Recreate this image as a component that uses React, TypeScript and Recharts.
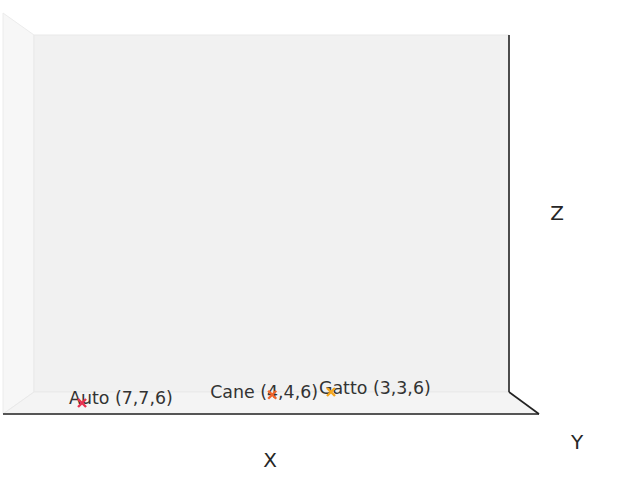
import { ScatterChart, Scatter, XAxis, YAxis } from "recharts";

// points (3D values)
const names = ["Auto", "Cane", "Gatto"];
const xs = [7, 4, 3];
const ys = [7, 4, 3];
const zs = [6, 6, 6];

const COLORS = ["#e8304f", "#f0652b", "#f5a61c"];
// label offsets (px) from the projected point, like the reference
const LABEL_DX = [-13, -62, -12];
const LABEL_DY = [-5, -3, -4];

const W = 619;
const H = 487;
const FONT = "'DejaVu Sans', sans-serif";

// simple perspective projection of the 3D view onto the screen plane
const project = (x: number, y: number, z: number) => ({
  px: 271 + (3240 * (4.02 - x)) / (58.1 - y),
  py: 383.75 + 2.75 * y + 0 * z,
});

const points = names.map((name, i) => ({
  name,
  idx: i,
  label: `${name} (${xs[i]},${ys[i]},${zs[i]})`,
  ...project(xs[i], ys[i], zs[i]),
}));

const Marker = (props: any) => {
  const { cx, cy, payload } = props;
  const i = payload.idx;
  const r = 4;
  return (
    <g>
      <text
        x={cx + LABEL_DX[i]}
        y={cy + LABEL_DY[i]}
        dominantBaseline="central"
        fontSize={17.4}
        fontFamily={FONT}
        fill="#333333"
      >
        {payload.label}
      </text>
      <path
        d={`M${cx - r},${cy - r}L${cx + r},${cy + r}M${cx - r},${cy + r}L${cx + r},${cy - r}`}
        stroke={COLORS[i]}
        strokeWidth={2.4}
        strokeLinecap="butt"
      />
    </g>
  );
};

function Box() {
  return (
    <svg width={W} height={H} style={{ position: "absolute", left: 0, top: 0 }}>
      {/* left pane */}
      <polygon points="3,13 34,35 34,392 3,414" fill="#f7f7f7" stroke="#ececec" strokeWidth={1} />
      {/* back pane */}
      <polygon points="34,35 509,35 509,392 34,392" fill="#f1f1f1" stroke="#e9e9e9" strokeWidth={1} />
      {/* floor */}
      <polygon points="34,392 509,392 539,414 3,414" fill="#f4f4f4" stroke="#e9e9e9" strokeWidth={1} />
      {/* axis lines */}
      <line x1={3} y1={414} x2={539} y2={414} stroke="#222" strokeWidth={1.6} />
      <line x1={509} y1={392} x2={539} y2={414} stroke="#222" strokeWidth={1.6} />
      <line x1={509} y1={35} x2={509} y2={392} stroke="#222" strokeWidth={1.6} />
      <text x={270} y={460} textAnchor="middle" dominantBaseline="central" fontSize={20} fontFamily={FONT} fill="#262626">X</text>
      <text x={577} y={442} textAnchor="middle" dominantBaseline="central" fontSize={20} fontFamily={FONT} fill="#262626">Y</text>
      <text x={557} y={213} textAnchor="middle" dominantBaseline="central" fontSize={20} fontFamily={FONT} fill="#262626">Z</text>
    </svg>
  );
}

export default function App() {
  return (
    <div style={{ position: "absolute", left: 0, top: 0, width: W, height: H, background: "#fff" }}>
      <Box />
      <div style={{ position: "absolute", left: 0, top: 0 }}>
        <ScatterChart width={W} height={H} margin={{ top: 0, right: 0, bottom: 0, left: 0 }}>
          <XAxis type="number" dataKey="px" domain={[0, W]} hide allowDataOverflow />
          <YAxis type="number" dataKey="py" domain={[0, H]} reversed hide allowDataOverflow />
          <Scatter data={points} shape={Marker} isAnimationActive={false} />
        </ScatterChart>
      </div>
    </div>
  );
}
